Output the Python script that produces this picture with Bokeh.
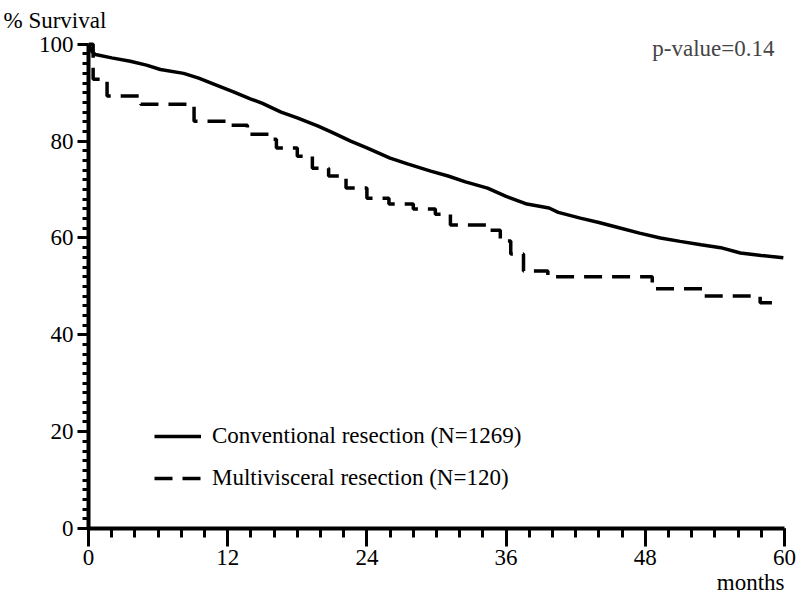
from bokeh.plotting import figure
from bokeh.models import Range1d, FixedTicker, Label, Legend, LegendItem, Title
from bokeh.embed import file_html
from bokeh.resources import INLINE

# ---- data ----
conv_months = [0, 0.3, 0.6, 2, 3.6, 5, 6.2, 8.2, 9.5, 10.8, 12.5, 14, 15, 16.6, 18,
               19.8, 21, 22.6, 24, 26, 27.5, 29.5, 31, 32.5, 34.4, 36, 37.8, 39.7,
               40.5, 42.4, 44, 45.9, 47.5, 49.3, 51, 52.8, 54.5, 56.2, 58, 59.9]
conv_surv = [100, 98.5, 97.9, 97.2, 96.5, 95.7, 94.8, 94.0, 93.0, 91.8, 90.2, 88.7,
             87.8, 86.0, 84.8, 83.1, 81.8, 80.0, 78.6, 76.5, 75.3, 73.8, 72.8, 71.6,
             70.3, 68.6, 67.0, 66.2, 65.3, 64.1, 63.2, 62.0, 61.0, 60.0, 59.3, 58.6,
             58.0, 56.9, 56.4, 55.9]

multi_months = [0, 0.4, 1.6, 4.5, 9.1, 12.1, 13.7, 15.9, 16.2, 18.0, 19.3, 20.7, 22.2,
                24.0, 25.9, 28.0, 29.9, 31.2, 34.4, 35.5, 36.4, 37.5, 39.6, 48.6, 52.9,
                57.9, 59.2]
multi_surv = [100, 92.8, 89.3, 87.6, 84.1, 83.3, 81.4, 80.4, 78.6, 76.9, 74.4, 72.8,
              70.3, 68.2, 67.0, 66.0, 64.9, 62.7, 61.6, 59.4, 56.7, 53.2, 52.0, 49.5,
              48.0, 46.6, 46.6]

x_ticks = [0, 12, 24, 36, 48, 60]
x_minor = list(range(0, 61, 2))
y_ticks = [0, 20, 40, 60, 80, 100]
y_minor = list(range(0, 101, 2))

label_conv = "Conventional resection (N=1269)"
label_multi = "Multivisceral resection (N=120)"
y_title = "% Survival"
p_text = "p-value=0.14"
x_title = "months"

FONT = "Liberation Serif"
FS = "23px"

p = figure(width=800, height=601, output_backend="svg", toolbar_location=None,
           x_range=Range1d(0, 60), y_range=Range1d(0, 101.2),
           min_border_left=88, min_border_right=16, min_border_top=37,
           min_border_bottom=73)
p.outline_line_color = None
p.xgrid.visible = False
p.ygrid.visible = False
p.background_fill_color = "white"
p.border_fill_color = "white"

p.title.text = y_title
p.title.align = "left"
p.title.offset = -85
p.title.text_font = FONT
p.title.text_font_size = FS
p.title.text_font_style = "normal"
p.title.text_color = "black"
p.title.standoff = 11

r1 = p.line(conv_months, conv_surv, line_color="black", line_width=3.5)
r2 = p.step(multi_months, multi_surv, mode="after", line_color="black",
            line_width=3.5, line_dash="18 10")

for ax in (p.xaxis[0], p.yaxis[0]):
    ax.axis_line_width = 4
    ax.axis_line_color = "black"
    ax.major_tick_line_width = 3
    ax.minor_tick_line_width = 3
    ax.major_tick_in = 0
    ax.minor_tick_in = 0
    ax.major_label_text_font = FONT
    ax.major_label_text_font_size = FS
    ax.major_label_text_color = "black"

p.xaxis[0].ticker = FixedTicker(ticks=x_ticks, minor_ticks=x_minor)
p.yaxis[0].ticker = FixedTicker(ticks=y_ticks, minor_ticks=y_minor)
p.yaxis[0].bounds = (0, 100)
p.xaxis[0].major_tick_out = 18
p.xaxis[0].minor_tick_out = 9
p.yaxis[0].major_tick_out = 11
p.yaxis[0].minor_tick_out = 6
p.xaxis[0].major_label_standoff = 3
p.yaxis[0].major_label_standoff = 4

bottom_title = Title(text=x_title, align="right", text_font=FONT,
                     text_font_size=FS, text_font_style="normal",
                     text_color="black", standoff=0)
p.add_layout(bottom_title, "below")

p.add_layout(Label(x=59.14, y=99.2, text=p_text, text_font=FONT,
                   text_font_size=FS, text_baseline="middle", text_align="right"))

legend = Legend(items=[LegendItem(label=label_conv, renderers=[r1]),
                       LegendItem(label=label_multi, renderers=[r2])],
                location=(66, 37), orientation="vertical",
                glyph_width=47, glyph_height=24, label_height=24, spacing=16,
                label_standoff=11, padding=0, margin=0,
                border_line_alpha=0, background_fill_alpha=0,
                label_text_font=FONT, label_text_font_size=FS,
                label_text_color="black")
p.add_layout(legend)

open("out.html", "w").write(file_html(p, INLINE))
